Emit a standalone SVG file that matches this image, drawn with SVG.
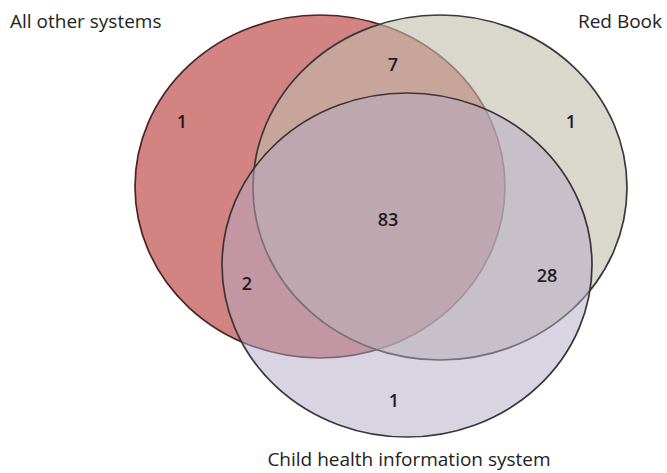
<svg xmlns="http://www.w3.org/2000/svg" width="667" height="473" viewBox="0 0 667 473">
<style>
.lbl{font-family:"Open Sans","Liberation Sans",sans-serif;font-size:19px;fill:#222}
.num{font-family:"Open Sans","Liberation Sans",sans-serif;font-size:18px;font-weight:600;fill:#1e1e1e;text-anchor:middle}
.set{stroke-width:1.7}
</style>
<rect width="667" height="473" fill="#ffffff"/>
<g id="all-other-systems">
<ellipse class="set" cx="320" cy="186.5" rx="185" ry="171.5" fill="#bf4f4d" fill-opacity="0.7" stroke="#4a2424"/>
</g>
<g id="red-book">
<ellipse class="set" cx="440" cy="187.5" rx="187" ry="172.5" fill="#c2bdab" fill-opacity="0.6" stroke="#3a3838"/>
</g>
<g id="child-health">
<ellipse class="set" cx="407" cy="265" rx="185" ry="172" fill="#b3a9c3" fill-opacity="0.5" stroke="#3a3438"/>
</g>
<g id="labels">
<text class="lbl" x="10" y="28">All other systems</text>
<text class="lbl" x="662" y="28" text-anchor="end">Red Book</text>
<text class="lbl" x="409" y="466" text-anchor="middle">Child health information system</text>
</g>
<g id="counts">
<text class="num" x="182" y="128">1</text>
<text class="num" x="393" y="71">7</text>
<text class="num" x="571" y="128">1</text>
<text class="num" x="388" y="226">83</text>
<text class="num" x="247" y="290">2</text>
<text class="num" x="547" y="282">28</text>
<text class="num" x="394" y="407">1</text>
</g>
<g id="connectors"></g>
</svg>
